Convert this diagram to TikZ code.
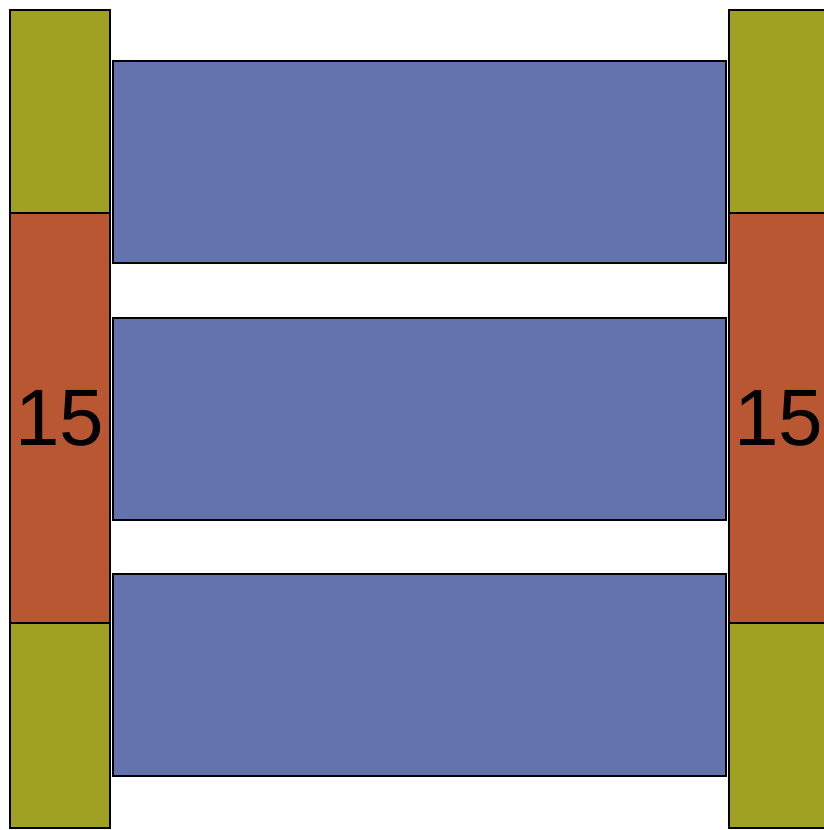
\documentclass[tikz,border=0pt]{standalone}
\usepackage{fontspec}
\setmainfont{Liberation Sans}
\definecolor{olive}{RGB}{160,160,34}
\definecolor{rust}{RGB}{185,87,50}
\definecolor{slate}{RGB}{98,115,174}
\tikzset{
  column/.style={draw=black,line width=2pt},
  slab/.style={draw=black,line width=1.4pt,fill=slate},
  count/.style={font=\fontsize{80}{80}\selectfont,text=black}
}
\begin{document}
\begin{tikzpicture}[x=1pt,y=-1pt]
  \useasboundingbox (0,0) rectangle (824,830);
  % Columnas laterales, de arriba hacia abajo
  \foreach \x in {10,729}{
    \draw[column,fill=olive] (\x,10) rectangle ++(100,203);
    \draw[column,fill=rust] (\x,213) rectangle ++(100,410);
    \draw[column,fill=olive] (\x,623) rectangle ++(100,205);
  }
  \node[count] (countL) at (60,418) {15};
  \node[count] (countR) at (779,418) {15};
  % Tres placas centrales
  \foreach \y in {61,318,574}{
    \draw[slab] (113,\y) rectangle ++(613,202);
  }
\end{tikzpicture}
\end{document}
